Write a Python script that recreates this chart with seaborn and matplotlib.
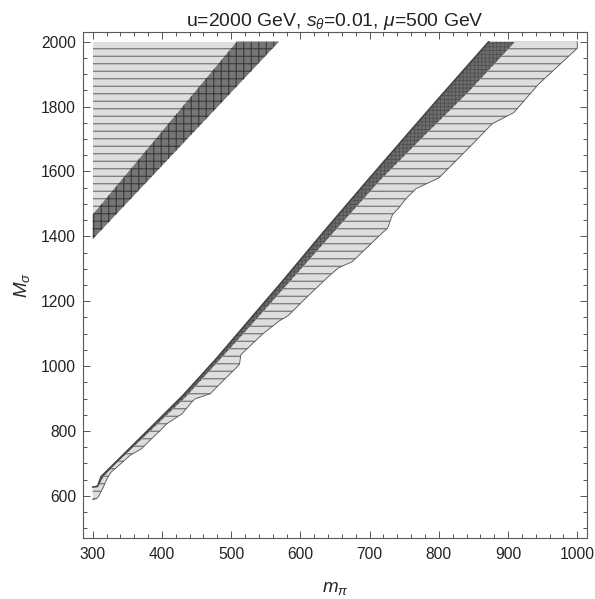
import numpy as np
import pandas as pd
import matplotlib
matplotlib.use("Agg")
import matplotlib.pyplot as plt
from matplotlib.ticker import MultipleLocator, FixedLocator
import seaborn as sns

# ---- region boundaries in the (m_pi, M_sigma) plane, GeV ----
# upper-left strip: light part and dark part
strip_light_mpi = [300, 300, 508]
strip_light_msig = [1467, 2000, 2000]
strip_dark_mpi = [300, 300, 508, 569]
strip_dark_msig = [1391, 1467, 2000, 2000]

# diagonal band: upper-left edge (bottom -> top)
band_edge_mpi = [300, 307, 312, 383, 431, 479, 527, 575, 632, 692, 760, 800, 872]
band_edge_msig = [627, 629, 659, 809, 911, 1024, 1144, 1264, 1410, 1560, 1728, 1826, 2000]

# dark / light split inside the band (top -> bottom)
band_split_mpi = [910, 844, 774, 716, 651, 522, 434, 334, 316, 309, 300]
band_split_msig = [2000, 1848, 1700, 1575, 1420, 1110, 904, 700, 660, 633, 628]

# lower-right edge of the light part (bottom -> top)
band_outer_mpi = [300, 306, 309, 315, 320, 326, 340, 354, 371, 383, 395, 407, 414,
                  429, 443, 448, 470, 486, 505, 512, 514, 546, 570, 582, 610, 640,
                  655, 675, 718, 726, 733, 742, 752, 767, 800, 848, 877, 896, 908,
                  944, 1000, 1000]
band_outer_msig = [588, 592, 600, 625, 650, 672, 698, 725, 746, 772, 796, 822, 832,
                   853, 889, 899, 915, 950, 990, 1005, 1035, 1100, 1140, 1155, 1214, 1275,
                   1303, 1322, 1410, 1425, 1467, 1487, 1515, 1547, 1580, 1683, 1747, 1768, 1781,
                   1869, 1980, 2000]

x_major = [300, 400, 500, 600, 700, 800, 900, 1000]
y_major = [600, 800, 1000, 1200, 1400, 1600, 1800, 2000]

title_text = r"u=2000 GeV, $s_\theta$=0.01, $\mu$=500 GeV"

# ---- style ----
sns.set_theme(style="ticks")
plt.rcParams.update({
    "font.family": ["Liberation Sans", "DejaVu Sans"],
    "mathtext.fontset": "custom",
    "mathtext.rm": "Liberation Sans",
    "mathtext.it": "Liberation Sans:italic",
    "mathtext.bf": "Liberation Sans:bold",
    "hatch.linewidth": 0.9,
    "axes.edgecolor": "#5a5a5a",
    "axes.linewidth": 0.9,
    "text.color": "#222222",
    "xtick.color": "#5a5a5a",
    "ytick.color": "#5a5a5a",
    "xtick.labelcolor": "#222222",
    "ytick.labelcolor": "#222222",
})

DPI = 90
fig = plt.figure(figsize=(595 / DPI, 599 / DPI), dpi=DPI)
ax = fig.add_axes([83 / 595, 1 - 538 / 599, (587 - 83) / 595, (538 - 32) / 599])

light = "#dedede"
light_hatch = "#6c6c6c"

# upper-left strip
ax.fill(strip_light_mpi, strip_light_msig, facecolor=light, edgecolor=light_hatch,
        hatch="--", linewidth=0, zorder=1)
ax.fill(strip_dark_mpi, strip_dark_msig, facecolor="#767676", edgecolor="#3a3a3a",
        hatch="++", linewidth=0, zorder=1)

# diagonal band: light part
light_x = band_outer_mpi + band_split_mpi
light_y = band_outer_msig + band_split_msig
ax.fill(light_x, light_y, facecolor=light, edgecolor=light_hatch,
        hatch="--", linewidth=0, zorder=1)

# diagonal band: dark part
dark_x = band_edge_mpi + band_split_mpi
dark_y = band_edge_msig + band_split_msig
with plt.rc_context({"hatch.linewidth": 0.5}):
    ax.fill(dark_x, dark_y, facecolor="#6c6c6c", edgecolor="#4a4a4a",
            hatch="++++", linewidth=0, zorder=2)

# outlines
edge_df = pd.DataFrame({"m_pi": band_edge_mpi, "M_sigma": band_edge_msig})
outer_df = pd.DataFrame({"m_pi": band_outer_mpi, "M_sigma": band_outer_msig})
sns.lineplot(data=edge_df, x="m_pi", y="M_sigma", sort=False, estimator=None,
             color="#444444", linewidth=1.3, ax=ax, zorder=3)
sns.lineplot(data=outer_df, x="m_pi", y="M_sigma", sort=False, estimator=None,
             color="#555555", linewidth=0.7, ax=ax, zorder=3)

# axes
ax.set_xlim(286, 1014)
ax.set_ylim(470, 2030)
ax.xaxis.set_major_locator(FixedLocator(x_major))
ax.yaxis.set_major_locator(FixedLocator(y_major))
ax.xaxis.set_minor_locator(MultipleLocator(20))
ax.yaxis.set_minor_locator(MultipleLocator(50))
ax.tick_params(which="both", direction="in", top=True, right=True, width=0.8)
ax.tick_params(which="major", length=5.6, labelsize=12.5)
ax.tick_params(which="minor", length=3.2)
ax.tick_params(axis="x", which="major", pad=7.5)
ax.tick_params(axis="y", which="major", pad=5.5)

ax.set_xlabel(r"$m_\pi$", fontsize=15, labelpad=14)
ax.set_ylabel(r"$M_\sigma$", fontsize=15, labelpad=7)
ax.set_title(title_text, fontsize=15.5, pad=3)

fig.savefig("out.png", dpi=DPI)
